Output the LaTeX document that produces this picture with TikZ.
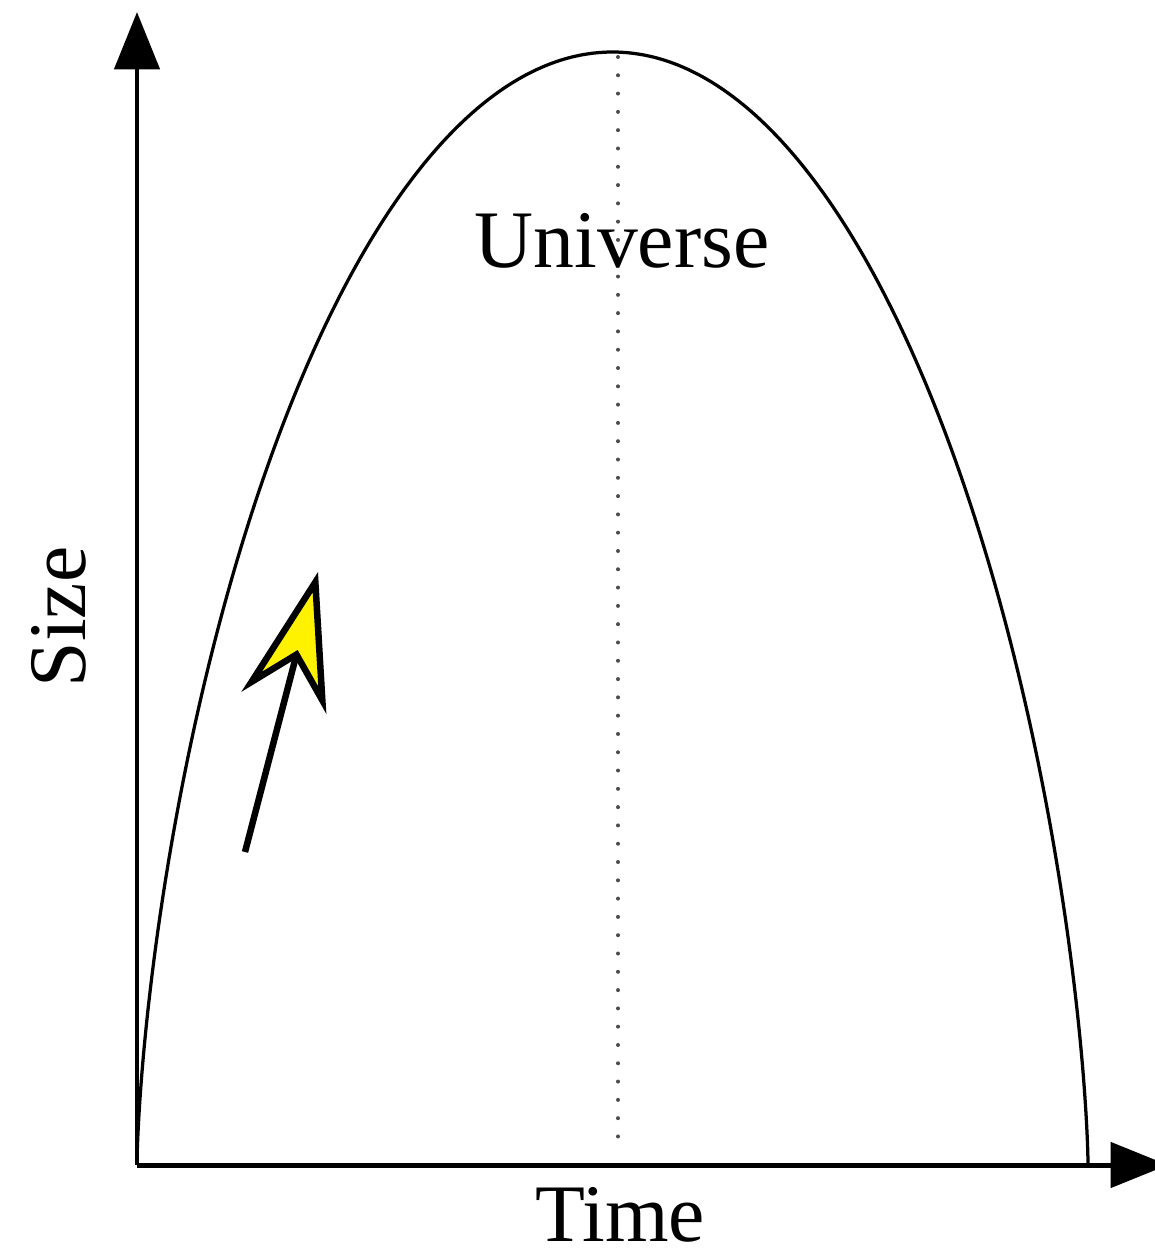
\documentclass[tikz,border=0pt]{standalone}
\usepackage{fontspec}
\setmainfont{Liberation Serif}
\usetikzlibrary{arrows.meta}

\begin{document}
\begin{tikzpicture}[x=0.02cm, y=0.02cm,
                    axis/.style={line width=0.1cm, -{Triangle[length=1.15cm, width=0.9cm]}},
                    label/.style={inner sep=0pt, font=\fontsize{46.5}{50}\selectfont}]
                    \useasboundingbox (-137,-93) rectangle (1017,1165);
                    \coordinate (O) at (0,0);
                    \coordinate (ytip) at (0,1153);
                    \coordinate (xtip) at (1031,0);
                    \coordinate (peak) at (481,1108);
                    \coordinate (foot) at (481,15);
                    \coordinate (tail) at (108,313);
                    \coordinate (head) at (181,593);
                    \draw[line width=0.065cm, line join=round] plot[domain=0:2*pi, samples=160, variable=\t, smooth]
                        ({151.36*(\t - sin(\t r))}, {556.5*(1 - cos(\t r))});
                    \draw[gray!60!black, line width=0.08cm, line cap=round, dash pattern=on 0pt off 0.366cm] (peak) -- (foot);
                    \draw[axis] (O) -- (ytip);
                    \draw[axis] (O) -- (xtip);
                    \draw[line width=0.13cm, -{Stealth[length=2.7cm, width=1.75cm, inset=0.9cm, fill=yellow]}] (tail) -- (head);
                    \node[label, anchor=base] (universe) at (485,897) {Universe};
                    \node[label, anchor=base] (time) at (483,-76) {Time};
                    \node[label, anchor=base, rotate=90] (size) at (-52,548) {Size};
                \end{tikzpicture}
\end{document}
